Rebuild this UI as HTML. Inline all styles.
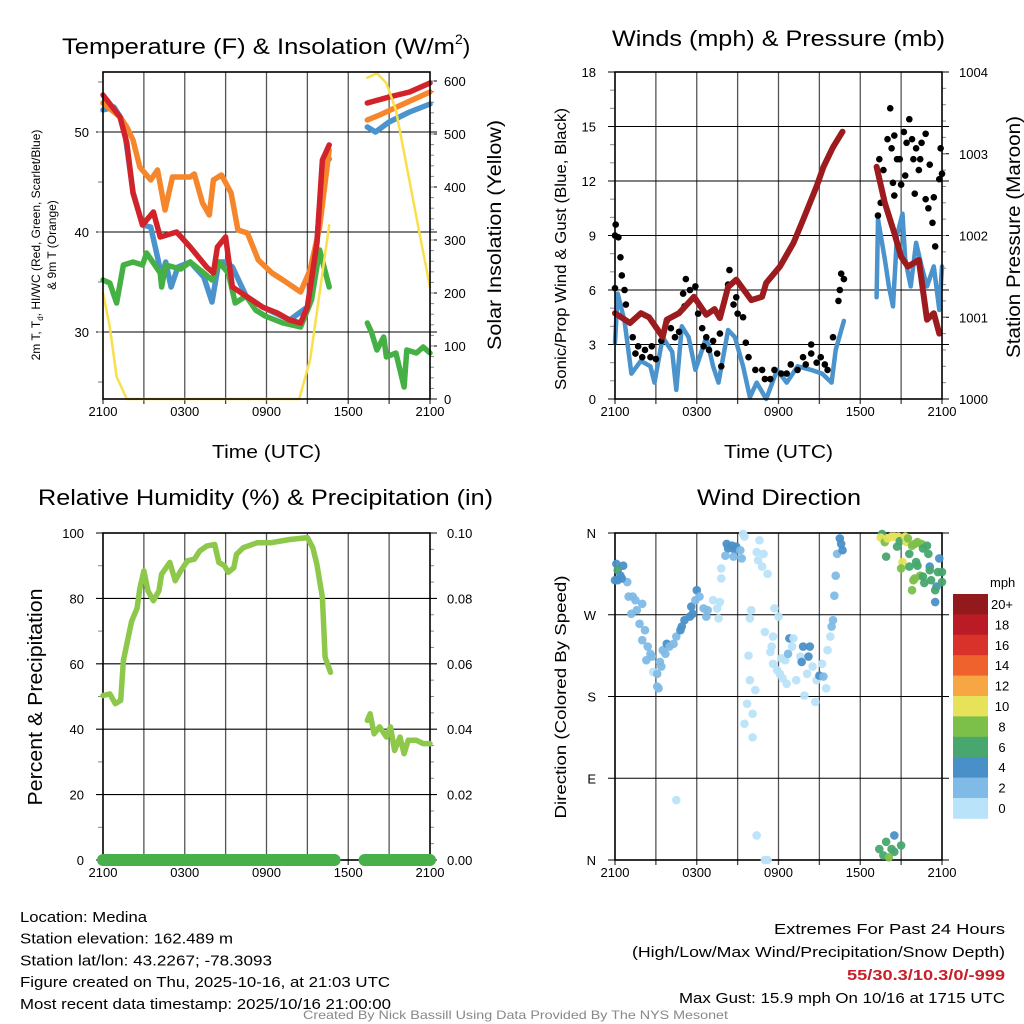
<!DOCTYPE html>
<html><head><meta charset="utf-8"><style>
html,body{margin:0;padding:0;background:#fff;}
svg{display:block;font-family:"Liberation Sans",sans-serif;}
</style></head><body>
<svg id="fig" width="1024" height="1024" viewBox="0 0 1024 1024"></svg>
<script>
// ---------- DATA ----------
const tHours   = [0,1.25,1.75,2.2,2.9,3.7,4.2,5.4,6.4,7.6,8.1,8.4,9.0,9.5,10.6,11.7,12.8,13.7,14.5,15.0,15.7,16.1,16.6,null,19.4,21.0,22.5,24];
const tempRed  = [53.7,51.5,48.9,43.9,40.7,42,39.5,40,38.5,36.5,35.9,38.5,39.5,34.5,33.5,32.5,31.9,31.2,30.9,32.5,38.9,47.2,48.7,null,52.9,53.5,54,54.9];
const oHours   = [0,1.25,1.75,2.2,2.7,3.5,4.0,4.55,5.1,6.4,6.7,7.3,7.8,8.1,8.7,9.4,9.9,10.6,11.4,12.4,13.2,14.5,15.2,15.9,16.6,null,19.4,20.3,22.2,24];
const tempOrange=[52.9,51.5,50.5,49.2,46.5,45.2,46.2,42.2,45.5,45.5,45.8,42.9,41.7,45.2,45.7,43.9,40.2,39.9,37.2,35.9,35.2,34,36.2,40.5,48.2,null,51.2,51.7,52.9,54];
const gHours   = [0,0.5,1.0,1.5,2.2,2.9,3.2,4.2,4.3,4.6,5.7,6.4,7.4,8.0,8.5,9.2,9.7,10.5,11.2,11.9,13.2,14.5,15.3,15.9,16.6,null,19.4,19.7,20.1,20.6,20.8,21.5,22.1,22.3,23.0,23.5,24];
const dewGreen = [35.2,34.9,32.9,36.7,37,36.7,37.9,35.9,34.5,36.7,36.3,37,35.9,35.2,37,35.9,32.9,33.6,32.2,31.6,30.9,30.5,33.2,38.2,34.5,null,30.9,30,28.2,29.5,27.5,27.9,24.5,28.2,27.9,28.5,27.9];
const bHours   = [0,0.8,1.5,2.2,2.9,3.5,4.0,4.3,4.6,5.0,5.5,6.4,7.4,8.0,8.5,9.0,9.5,10.5,11.7,13.7,15.0,15.7,16.1,16.6,null,19.4,20.0,21.0,22.5,24];
const hiwcBlue = [52.2,52.5,51,44,40.7,40.5,37.5,35.5,37,34.5,36.5,37,35.5,33,37,37,36.5,33.6,32.5,31.2,32.5,38.9,46.5,47.3,null,50.5,50,51,52,52.8];
const sHours   = [0,0.5,1.0,1.75,14.4,15.2,15.9,16.6,null,19.4,20.1,20.8,21.5,22.2,23.0,24];
const solarYellow=[200,136,42,0,0,74,200,328,null,606,615,596,545,451,343,211];

const wHours = [0,0.2,0.7,1.2,1.9,2.6,2.9,3.5,4.2,4.5,4.9,5.4,5.9,6.7,7.2,7.6,8.3,8.8,9.4,9.9,10.4,11.1,11.9,12.6,13.4,14.4,15.2,15.9,16.2,16.8,null,19.2,19.3,19.8,20.1,20.4,20.7,21.1,21.3,21.7,22.1,22.5,22.9,23.4,23.8,24];
const windBlue = [3.1,5.8,4.3,1.4,2.1,1.8,0.9,3.4,2.6,0.5,4.0,3.4,1.6,3.4,1.8,0.9,3.8,3.4,1.8,0.1,0.9,0,1.6,0.9,1.8,1.6,1.4,0.9,2.7,4.3,null,5.6,9.9,7.7,6.2,5.1,9.0,10.2,7.7,6.2,8.6,7.3,6.2,7.3,4.9,7.3];
const pHours = [0,1.1,1.9,2.5,3.5,3.8,4.7,5.8,6.7,7.3,7.7,8.3,8.9,10,10.8,11.1,12.1,13.1,13.8,14.8,15.3,16,16.7,null,19.2,19.8,20.5,21,21.5,22.3,22.9,23.4,23.8];
const pressureMaroon = [1001.05,1000.93,1001.05,1001.0,1000.76,1000.97,1001.05,1001.25,1001.03,1001.1,1000.99,1001.37,1001.46,1001.21,1001.25,1001.42,1001.62,1001.91,1002.19,1002.6,1002.84,1003.08,1003.27,null,1002.84,1002.4,1002.03,1001.74,1001.62,1001.7,1000.97,1001.05,1000.8];
const gustHours = [0.05,0,0.25,0.4,0.5,0.7,0.8,0,1.3,1.5,1.7,2.0,2.2,2.6,2.7,3.0,3.4,3.8,4.1,4.4,4.7,5.0,5.1,5.2,5.5,5.9,6.1,6.4,6.5,6.7,6.9,7.2,7.5,7.7,7.8,8.3,8.4,8.7,8.9,9.0,9.4,9.6,9.8,10.3,10.8,11.0,11.4,11.7,12.2,12.6,12.9,13.4,13.8,14.0,14.4,14.4,14.8,15.1,15.4,15.6,16.0,16.4,16.5,16.6,16.8,
  19.3,19.4,19.5,19.7,20.0,20.2,20.3,20.4,20.5,20.5,20.7,20.9,21.0,21.2,21.3,21.4,21.6,21.8,21.9,22.0,22.1,22.3,22.4,22.5,22.8,22.8,23.0,23.1,23.3,23.4,23.5,23.8,23.9,24];
const gustBlack = [9.6,9.0,8.9,7.8,6.8,6.0,5.2,6.1,3.4,2.5,2.9,2.3,2.7,2.3,2.9,2.2,3.2,4.3,3.9,3.4,3.7,5.8,5.1,6.6,6.0,6.2,4.7,3.9,2.9,3.4,2.7,3.2,2.5,3.6,1.8,6.3,7.1,5.2,5.6,4.7,4.5,3.1,2.3,1.6,1.6,1.1,1.1,1.6,1.4,1.4,1.9,1.6,2.3,1.9,3.0,2.5,2.0,2.3,1.9,1.6,3.4,5.4,6.0,6.9,6.6,
  10.1,13.2,10.8,12.6,14.3,16.0,13.8,11.9,14.5,11.2,13.2,13.2,11.8,14.7,12.3,14.1,15.4,14.3,13.2,11.3,13.8,12.6,13.2,14.1,14.6,11.0,10.5,12.9,9.7,11.1,8.4,12.1,13.8,12.4];

const rhHours = [0,0.5,0.9,1.3,1.5,1.8,2.1,2.5,2.7,3.0,3.3,3.7,4.1,4.3,4.9,5.3,5.7,6.2,6.7,7.1,7.6,8.2,8.5,8.9,9.2,9.6,9.8,10.3,11.3,12.3,13.7,15.0,15.4,15.7,16.1,16.3,16.7,null,19.4,19.6,19.9,20.3,20.8,21.1,21.4,21.8,22.1,22.4,23.0,23.5,24];
const rhGreen = [50.3,50.8,47.8,48.8,61,67,73,77,83,88.4,82.3,79.3,82.3,87.4,91,85.4,88.4,91.5,92,94.5,96,96.5,91,90,88,89.4,93.5,95.5,97,97,98,98.6,95.5,90.4,80.3,62,57.4,null,42.7,44.7,38.6,40.7,37.6,40.7,33.5,37.6,32.5,36.6,36.6,35.6,35.6];
const precipHours = [0,17.0,null,19.2,24];
const precipVals  = [0,0,null,0,0];

const dirHours = [0.1,0.6,0.2,0.4,0,0.9,0.2,0.5,1.0,1.3,1.5,2.0,1.2,1.6,1.8,2.2,2.0,2.4,2.6,2.7,2.3,2.8,3.1,3.3,3.4,3.1,3.2,3.5,3.8,3.7,4.0,4.3,4.5,4.8,4.9,5.1,5.5,5.7,5.6,5.9,6.0,6.2,6.5,6.7,6.8,7.2,7.5,7.6,7.7,8.2,8.3,8.6,8.8,8.9,8.1,8.7,9.3,9.2,9.4,9.5,10.6,10.4,10.9,10.5,10.8,11.2,7.8,7.8,4.5,10.0,9.9,11.0,11.7,12.0,9.8,9.9,10.3,9.7,10.1,9.5,10.1,10.4,11.0,11.2,11.4,11.5,11.6,12.2,12.5,12.7,12.8,13.1,11.6,11.9,12.1,12.3,12.6,13.0,13.3,13.6,13.7,13.8,14.2,14.3,14.1,13.9,14.5,14.7,14.8,15.0,15.2,15.3,15.5,15.6,15.8,15.9,16.0,16.1,16.2,16.3,16.5,16.6,16.7,
  19.6,19.5,19.8,20.0,20.3,20.5,20.8,20.7,20.9,21.3,21.4,21.5,21.8,22.0,22.2,22.5,22.6,22.9,21.6,23.0,19.9,21.1,21.0,21.6,22.1,22.2,23.1,23.8,23.1,23.7,24.0,22.0,21.9,22.4,22.6,22.7,23.2,23.6,23.5,24.0,21.8,23.5,
  20.5,19.9,19.4,20.3,20.5,21.0,19.7,20.1];
const dirDeg = [326,324,319,313,308,306,308,310,290,290,286,282,271,275,260,253,242,235,227,224,220,207,205,218,213,191,189,231,238,227,235,238,246,253,257,264,268,271,279,286,297,290,277,268,275,286,277,266,284,348,343,346,341,345,335,334,332,341,359,356,352,339,337,330,323,315,321,310,66,275,266,251,277,268,225,198,187,172,161,150,135,27,0,0,229,235,246,222,220,227,244,244,216,209,205,200,194,235,198,224,218,235,224,235,205,181,213,174,198,203,216,202,189,231,246,257,264,291,313,337,354,348,341,
  359,355,350,354,356,356,356,345,351,356,350,354,346,348,350,348,343,346,337,337,334,328,321,323,328,324,323,332,319,317,317,310,308,313,312,305,308,301,297,306,297,284,
  27,20,12,12,9,16,5,3];
const dirSpeed = [5,5,7,5,5,3,5,5,3,3,3,3,3,3,3,3,3,3,3,3,3,1,3,3,3,3,3,3,5,3,3,3,3,5,5,5,5,5,5,3,5,3,3,3,3,1,1,1,1,5,5,5,5,5,3,3,3,3,1,1,1,1,1,1,1,1,1,1,1,1,1,1,1,1,1,1,1,1,1,1,1,1,1,1,1,1,1,1,1,3,5,1,1,1,1,1,1,1,1,1,5,5,5,5,1,1,1,1,1,5,1,3,1,1,1,3,3,3,3,3,5,5,5,
  7,11,9,11,11,11,11,7,7,11,11,9,9,9,9,9,7,7,7,7,7,11,9,7,7,7,5,5,7,7,7,9,9,9,7,7,7,5,7,7,9,5,
  5,7,7,7,7,7,7,9];

const speedLabels = ["20+","18","16","14","12","10","8","6","4","2","0"];
const speedColors = ["#921a1d","#bb1b24","#d9322a","#f0622d","#f6a643","#e6e25a","#7cc04a","#48a76f","#4a90c8","#7fbbe6","#b9e3f8"];

const xTickHours = [0,6,12,18,24];
const xTickLabels = ["2100","0300","0900","1500","2100"];
const tempTicks = [30,40,50];
const solarTicks = [0,100,200,300,400,500,600];
const windTicks = [0,3,6,9,12,15,18];
const presTicks = [1000,1001,1002,1003,1004];
const rhTicks = [0,20,40,60,80,100];
const precipTicks = ["0.00","0.02","0.04","0.06","0.08","0.10"];
const dirTicks = [360,270,180,90,0];
const dirLabels = ["N","W","S","E","N"];

// ---------- DRAWING ----------
const NS="http://www.w3.org/2000/svg";
const svg=document.getElementById('fig');
function mk(tag,attrs,parent){const e=document.createElementNS(NS,tag);for(const k in attrs)e.setAttribute(k,attrs[k]);(parent||svg).appendChild(e);return e;}
function txt(str,attrs,parent){const e=mk('text',attrs,parent);e.textContent=str;return e;}
function linScale(d0,d1,r0,r1){return v=>r0+(v-d0)*(r1-r0)/(d1-d0);}

const P1={x0:103,x1:430,y0:72,y1:399}, P2={x0:615,x1:942,y0:72,y1:399}, P3={x0:103,x1:430,y0:533,y1:860}, P4={x0:615,x1:942,y0:533,y1:860};

function frame(P,name){
  const g=mk('g',{});
  
  
  const xs=linScale(0,24,P.x0,P.x1);
  for(let h=3;h<24;h+=3){
    const l=mk('line',{x1:xs(h),x2:xs(h),y1:P.y0,y2:P.y1,stroke:'#555',"stroke-width":1.3},g);
    
    
  }
  for(let h=0;h<=24;h+=3){
    const t=mk('line',{x1:xs(h),x2:xs(h),y1:P.y1,y2:P.y1+5,stroke:'#444',"stroke-width":1.3},g);
    
    
  }
  xTickHours.forEach((h,i)=>{
    const t=txt(xTickLabels[i],{x:xs(h),y:P.y1+17,"font-size":13,"text-anchor":"middle",fill:'#000'},g);
    
    
  });
  return {g,xs};
}
function hgrid(g,P,y){
  const l=mk('line',{x1:P.x0-7,x2:P.x1+7,y1:y,y2:y,stroke:'#000',"stroke-width":1.1},g);
  
  
}
function border(g,P){
  const r=mk('rect',{x:P.x0,y:P.y0,width:P.x1-P.x0,height:P.y1-P.y0,fill:'none',stroke:'#000',"stroke-width":1.6},g);
  
  
}
function pathFrom(hours,vals,xs,ys){
  let d='',pen=false;
  for(let i=0;i<hours.length;i++){
    if(hours[i]===null||vals[i]===null){pen=false;continue;}
    d+=(pen?'L':'M')+xs(hours[i]).toFixed(1)+' '+ys(vals[i]).toFixed(1)+' ';pen=true;
  }
  return d;
}
function series(g,hours,vals,xs,ys,color,w,name){
  const p=mk('path',{d:pathFrom(hours,vals,xs,ys),fill:'none',stroke:color,"stroke-width":w,"stroke-linejoin":'round',"stroke-linecap":'round'},g);
  
  
  return p;
}

// ----- Panel 1 -----
(function(){
  const {g,xs}=frame(P1,'temperature-panel');
  const yT=linScale(50,40,132,232), yS=linScale(0,600,399,81);
  tempTicks.forEach(v=>{hgrid(g,P1,yT(v));
    const t=txt(v,{x:P1.x0-14,y:yT(v)+5,"font-size":13,"text-anchor":"end"},g);
    
    });
  for(let v=25;v<=55;v+=5){const l=mk('line',{x1:P1.x0-5,x2:P1.x0,y1:yT(v),y2:yT(v),stroke:'#777'},g);
    
    }
  solarTicks.forEach(v=>{const l=mk('line',{x1:P1.x1,x2:P1.x1+7,y1:yS(v),y2:yS(v),stroke:'#000'},g);
    
    
    const t=txt(v,{x:P1.x1+14,y:yS(v)+5,"font-size":13},g);
    
    });
  for(let v=20;v<=600;v+=20){const l=mk('line',{x1:P1.x1,x2:P1.x1+4,y1:yS(v),y2:yS(v),stroke:'#888'},g);
    
    }
  series(g,bHours,hiwcBlue,xs,yT,'#4a93cc',5.5,'hiwc-blue-line');
  series(g,gHours,dewGreen,xs,yT,'#45b043',5.5,'dewpoint-green-line');
  series(g,oHours,tempOrange,xs,yT,'#f6862c',5.5,'9m-temp-orange-line');
  series(g,tHours,tempRed,xs,yT,'#d3232a',5.5,'2m-temp-red-line');
  series(g,sHours,solarYellow,xs,yS,'#f9e04b',2.5,'solar-yellow-line');
  border(g,P1);
})();
let e;
e=mk('text',{x:62,y:54,"font-size":22.5});


(function(){const a=mk('tspan',{textLength:393,lengthAdjust:'spacingAndGlyphs'},e);a.textContent='Temperature (F) & Insolation (W/m';
 const b=mk('tspan',{"font-size":14,dy:-10},e);b.textContent='2';
 const c=mk('tspan',{dy:10},e);c.textContent=')';})();
e=txt('Time (UTC)',{x:212,y:458,"font-size":18.5,textLength:109,lengthAdjust:'spacingAndGlyphs'});


e=mk('text',{x:0,y:0,"font-size":12,transform:'translate(40,245) rotate(-90)',"text-anchor":"middle"});


(function(){const a=mk('tspan',{},e);a.textContent='2m T, T';const b=mk('tspan',{"font-size":8,dy:3},e);b.textContent='d';const c=mk('tspan',{dy:-3},e);c.textContent=', HI/WC (Red, Green, Scarlet/Blue)';})();
e=txt('& 9m T (Orange)',{x:0,y:0,"font-size":12,transform:'translate(56,245) rotate(-90)',"text-anchor":"middle"});


e=txt('Solar Insolation (Yellow)',{x:0,y:0,"font-size":19,transform:'translate(501,235) rotate(-90)',"text-anchor":"middle",textLength:230,lengthAdjust:'spacingAndGlyphs'});



// ----- Panel 2 -----
(function(){
  const {g,xs}=frame(P2,'winds-panel');
  const yW=linScale(0,18,399,72), yP=linScale(1000,1004,399,72);
  windTicks.forEach(v=>{hgrid(g,P2,yW(v));
    const t=txt(v,{x:P2.x0-19,y:yW(v)+5,"font-size":13,"text-anchor":"end"},g);
    
    });
  for(let v=1;v<18;v++){if(v%3){const l=mk('line',{x1:P2.x0-5,x2:P2.x0,y1:yW(v),y2:yW(v),stroke:'#888'},g);
    
    }}
  presTicks.forEach(v=>{const l=mk('line',{x1:P2.x1,x2:P2.x1+7,y1:yP(v),y2:yP(v),stroke:'#000'},g);
    
    
    const t=txt(v,{x:P2.x1+17,y:yP(v)+5,"font-size":13},g);
    
    });
  for(let v=1000.2;v<1004;v+=0.2){const l=mk('line',{x1:P2.x1,x2:P2.x1+4,y1:yP(v),y2:yP(v),stroke:'#888'},g);
    
    }
  series(g,wHours,windBlue,xs,yW,'#4a93cc',4.5,'sonic-wind-blue-line');
  gustHours.forEach((h,i)=>{const c=mk('circle',{cx:xs(h),cy:yW(gustBlack[i]),r:3.3,fill:'#000'},g);
    
    });
  series(g,pHours,pressureMaroon,xs,yP,'#9b1b1e',6,'pressure-maroon-line');
  border(g,P2);
})();
e=txt('Winds (mph) & Pressure (mb)',{x:612,y:46,"font-size":22.5,textLength:333,lengthAdjust:'spacingAndGlyphs'});


e=txt('Time (UTC)',{x:724,y:458,"font-size":18.5,textLength:109,lengthAdjust:'spacingAndGlyphs'});


e=txt('Sonic/Prop Wind & Gust (Blue, Black)',{x:0,y:0,"font-size":16,transform:'translate(566,249) rotate(-90)',"text-anchor":"middle",textLength:282,lengthAdjust:'spacingAndGlyphs'});


e=txt('Station Pressure (Maroon)',{x:0,y:0,"font-size":19,transform:'translate(1020,237) rotate(-90)',"text-anchor":"middle",textLength:242,lengthAdjust:'spacingAndGlyphs'});



// ----- Panel 3 -----
(function(){
  const {g,xs}=frame(P3,'humidity-panel');
  const yR=linScale(0,100,860,533);
  rhTicks.forEach((v,i)=>{hgrid(g,P3,yR(v));
    const t=txt(v,{x:P3.x0-19,y:yR(v)+5,"font-size":13,"text-anchor":"end"},g);
    
    
    const t2=txt(precipTicks[i],{x:P3.x1+17,y:yR(v)+5,"font-size":13},g);
    
    });
  for(let v=10;v<100;v+=20){const l=mk('line',{x1:P3.x0-5,x2:P3.x0,y1:yR(v),y2:yR(v),stroke:'#888'},g);
    
    }
  for(let v=5;v<100;v+=5){if(v%20){const l=mk('line',{x1:P3.x1,x2:P3.x1+4,y1:yR(v),y2:yR(v),stroke:'#888'},g);
    
    }}
  border(g,P3);
  series(g,rhHours,rhGreen,xs,yR,'#8dc84a',5.5,'rh-green-line');
  const yPr=linScale(0,0.1,860,533);
  series(g,precipHours,precipVals,xs,yPr,'#48b04a',12,'precip-line');
})();
e=txt('Relative Humidity (%) & Precipitation (in)',{x:38,y:505,"font-size":22.5,textLength:455,lengthAdjust:'spacingAndGlyphs'});


e=txt('Percent & Precipitation',{x:0,y:0,"font-size":20,transform:'translate(42,697) rotate(-90)',"text-anchor":"middle",textLength:217,lengthAdjust:'spacingAndGlyphs'});



// ----- Panel 4 -----
(function(){
  const {g,xs}=frame(P4,'wind-direction-panel');
  const yD=linScale(0,360,860,533);
  dirTicks.forEach((v,i)=>{hgrid(g,P4,yD(v));
    const t=txt(dirLabels[i],{x:P4.x0-19,y:yD(v)+5,"font-size":13,"text-anchor":"end"},g);
    
    });
  border(g,P4);
  function colorFor(s){let idx=Math.min(10,Math.floor(s/2));return speedColors[10-idx];}
  dirHours.forEach((h,i)=>{const c=mk('circle',{cx:xs(h),cy:yD(dirDeg[i]),r:4.3,fill:colorFor(dirSpeed[i]),"fill-opacity":0.95},g);
    
    });
  const cb=mk('g',{});
  
  
  speedColors.forEach((col,i)=>{const r=mk('rect',{x:953,y:594+i*20.4,width:35,height:20.8,fill:col},cb);
    
    
    const t=txt(speedLabels[i],{x:1002,y:609+i*20.4,"font-size":13,"text-anchor":"middle"},cb);
    
    });
  const t=txt('mph',{x:990,y:587,"font-size":13},cb);
  
  
})();
e=txt('Wind Direction',{x:697,y:505,"font-size":22.5,textLength:164,lengthAdjust:'spacingAndGlyphs'});


e=txt('Direction (Colored By Speed)',{x:0,y:0,"font-size":16,transform:'translate(566,697) rotate(-90)',"text-anchor":"middle",textLength:243,lengthAdjust:'spacingAndGlyphs'});



// ----- Footer -----
const leftLines=["Location: Medina","Station elevation: 162.489 m","Station lat/lon: 43.2267; -78.3093","Figure created on Thu, 2025-10-16, at 21:03 UTC","Most recent data timestamp: 2025/10/16 21:00:00"];
const leftW=[127,213,252,370,371];
leftLines.forEach((s,i)=>{const t=txt(s,{x:20,y:922+i*21.7,"font-size":15,textLength:leftW[i],lengthAdjust:'spacingAndGlyphs'});
  
  });
const rightLines=["Extremes For Past 24 Hours","(High/Low/Max Wind/Precipitation/Snow Depth)","55/30.3/10.3/0/-999","Max Gust: 15.9 mph On 10/16 at 1715 UTC"];
const rightX=[774,632,847,679];
rightLines.forEach((s,i)=>{const t=txt(s,{x:rightX[i],y:934+i*23,"font-size":15,fill:i==2?'#c8202a':'#000',"font-weight":i==2?'bold':'normal',textLength:1005-rightX[i],lengthAdjust:'spacingAndGlyphs'});
  
  });
e=txt('Created By Nick Bassill Using Data Provided By The NYS Mesonet',{x:303,y:1019,"font-size":12,fill:'#888',textLength:425,lengthAdjust:'spacingAndGlyphs'});


</script>
</body></html>
